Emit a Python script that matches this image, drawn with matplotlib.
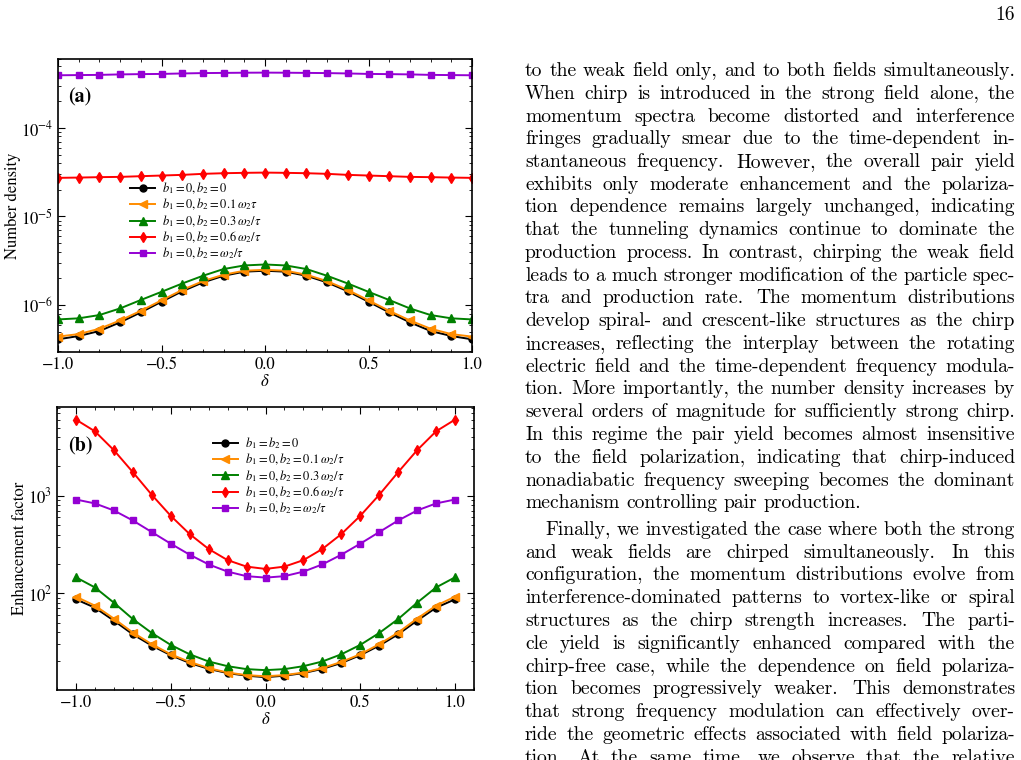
import matplotlib
matplotlib.use("Agg")
import matplotlib.pyplot as plt
from matplotlib.font_manager import FontProperties
from matplotlib.ticker import MultipleLocator, LogLocator, NullFormatter

plt.rcParams['font.family'] = 'STIXGeneral'
plt.rcParams['mathtext.fontset'] = 'stix'

# data
delta = [-1.0, -0.9, -0.8, -0.7, -0.6, -0.5, -0.4, -0.3, -0.2, -0.1, 0.0,
         0.1, 0.2, 0.3, 0.4, 0.5, 0.6, 0.7, 0.8, 0.9, 1.0]

black_a = [4.10e-7, 4.47e-7, 5.09e-7, 6.38e-7, 8.27e-7, 1.09e-6, 1.43e-6, 1.80e-6, 2.14e-6, 2.38e-6, 2.44e-6,
           2.38e-6, 2.14e-6, 1.80e-6, 1.43e-6, 1.09e-6, 8.27e-7, 6.38e-7, 5.09e-7, 4.47e-7, 4.10e-7]
orange_a = [4.40e-7, 4.70e-7, 5.40e-7, 6.70e-7, 8.60e-7, 1.13e-6, 1.48e-6, 1.86e-6, 2.20e-6, 2.44e-6, 2.50e-6,
            2.44e-6, 2.20e-6, 1.86e-6, 1.48e-6, 1.13e-6, 8.60e-7, 6.70e-7, 5.40e-7, 4.70e-7, 4.40e-7]
green_a = [6.88e-7, 7.08e-7, 7.71e-7, 9.16e-7, 1.14e-6, 1.41e-6, 1.75e-6, 2.14e-6, 2.55e-6, 2.80e-6, 2.87e-6,
           2.80e-6, 2.55e-6, 2.14e-6, 1.75e-6, 1.41e-6, 1.14e-6, 9.16e-7, 7.71e-7, 7.08e-7, 6.88e-7]
red_a = [2.73e-5, 2.75e-5, 2.78e-5, 2.80e-5, 2.85e-5, 2.90e-5, 2.95e-5, 3.03e-5, 3.08e-5, 3.11e-5, 3.13e-5,
         3.11e-5, 3.08e-5, 3.03e-5, 2.95e-5, 2.90e-5, 2.85e-5, 2.80e-5, 2.78e-5, 2.75e-5, 2.73e-5]
purple_a = [3.93e-4, 3.95e-4, 3.97e-4, 4.02e-4, 4.05e-4, 4.07e-4, 4.12e-4, 4.16e-4, 4.18e-4, 4.20e-4, 4.21e-4,
            4.20e-4, 4.18e-4, 4.16e-4, 4.12e-4, 4.07e-4, 4.05e-4, 4.02e-4, 3.97e-4, 3.95e-4, 3.93e-4]

black_b = [86.8, 71.3, 52.5, 38.0, 29.1, 23.2, 19.3, 16.8, 15.2, 14.3, 13.8,
           14.3, 15.2, 16.8, 19.3, 23.2, 29.1, 38.0, 52.5, 71.3, 86.8]
orange_b = [92.4, 74.8, 55.1, 39.6, 30.1, 23.7, 19.8, 17.1, 15.4, 14.5, 14.1,
            14.5, 15.4, 17.1, 19.8, 23.7, 30.1, 39.6, 55.1, 74.8, 92.4]
green_b = [146, 115, 80.2, 54.5, 39.2, 29.6, 23.7, 20.0, 17.9, 16.7, 16.3,
           16.7, 17.9, 20.0, 23.7, 29.6, 39.2, 54.5, 80.2, 115, 146]
red_b = [6050, 4590, 2940, 1750, 1024, 624, 405, 285, 219, 188, 178,
         188, 219, 285, 405, 624, 1024, 1750, 2940, 4590, 6050]
purple_b = [917, 836, 708, 559, 425, 323, 249, 198, 167, 150, 145,
            150, 167, 198, 249, 323, 425, 559, 708, 836, 917]

labels_a = [r'$b_1=0,b_2=0$', r'$b_1=0,b_2=0.1\,\omega_2\tau$', r'$b_1=0,b_2=0.3\,\omega_2/\tau$',
            r'$b_1=0,b_2=0.6\,\omega_2/\tau$', r'$b_1=0,b_2=\omega_2/\tau$']
labels_b = [r'$b_1=b_2=0$', r'$b_1=0,b_2=0.1\,\omega_2/\tau$', r'$b_1=0,b_2=0.3\,\omega_2/\tau$',
            r'$b_1=0,b_2=0.6\,\omega_2/\tau$', r'$b_1=0,b_2=\omega_2/\tau$']

colors = ['black', '#ff8c00', '#008000', '#ff0000', '#9400d3']
markers = ['o', '<', '^', 'd', 's']
msizes = [5, 5.5, 5.5, 5.5, 5]

W, H = 1021, 760
fig = plt.figure(figsize=(W / 100, H / 100), dpi=100)


def px_axes(l, t, r, b):
    return fig.add_axes([l / W, 1 - b / H, (r - l) / W, (b - t) / H])


def style(ax):
    ax.tick_params(which='both', direction='in', top=True, right=True, labelsize=12)
    ax.tick_params(which='major', length=5, width=0.8)
    ax.tick_params(which='minor', length=2.5, width=0.6)
    ax.xaxis.set_major_locator(MultipleLocator(0.5))
    ax.xaxis.set_minor_locator(MultipleLocator(0.1))
    ax.yaxis.set_minor_locator(LogLocator(base=10, subs=range(2, 10)))
    ax.yaxis.set_minor_formatter(NullFormatter())
    for s in ax.spines.values():
        s.set_linewidth(1.2)


leg_kw = dict(loc='upper left', frameon=False, fontsize=9, handlelength=2.0,
              handletextpad=0.55, labelspacing=0.05, borderpad=0, borderaxespad=0)

# panel (a)
ax1 = px_axes(58, 59, 472, 352)
for ys, c, m, ms, lab in zip([black_a, orange_a, green_a, red_a, purple_a], colors, markers, msizes, labels_a):
    ax1.plot(delta, ys, color=c, marker=m, ms=ms, lw=1.4, label=lab)
ax1.set_yscale('log')
ax1.set_xlim(-1, 1)
ax1.set_ylim(2.95e-7, 6.0e-4)
style(ax1)
ax1.set_xlabel(r'$\delta$', fontsize=12, labelpad=1)
ax1.set_ylabel('Number density', fontsize=12, labelpad=0)
ax1.text(0.024, 0.87, '(a)', transform=ax1.transAxes, fontsize=14.5, fontweight='bold', va='center')
ax1.legend(bbox_to_anchor=(0.174, 0.585), **leg_kw)

# panel (b)
ax2 = px_axes(57, 407, 474, 690)
for ys, c, m, ms, lab in zip([black_b, orange_b, green_b, red_b, purple_b], colors, markers, msizes, labels_b):
    ax2.plot(delta, ys, color=c, marker=m, ms=ms, lw=1.4, label=lab)
ax2.set_yscale('log')
ax2.set_xlim(-1.1, 1.1)
ax2.set_ylim(10.2, 8150)
style(ax2)
ax2.set_xlabel(r'$\delta$', fontsize=12, labelpad=1)
ax2.set_ylabel('Enhancement factor', fontsize=12, labelpad=0)
ax2.text(0.026, 0.86, '(b)', transform=ax2.transAxes, fontsize=14.5, fontweight='bold', va='center')
ax2.legend(bbox_to_anchor=(0.374, 0.9), **leg_kw)

# right column text, justified word by word
para1 = [
    "to the weak field only, and to both fields simultaneously.",
    "When chirp is introduced in the strong field alone, the",
    "momentum spectra become distorted and interference",
    "fringes gradually smear due to the time-dependent in-",
    "stantaneous frequency.  However, the overall pair yield",
    "exhibits only moderate enhancement and the polariza-",
    "tion dependence remains largely unchanged, indicating",
    "that the tunneling dynamics continue to dominate the",
    "production process. In contrast, chirping the weak field",
    "leads to a much stronger modification of the particle spec-",
    "tra and production rate.  The momentum distributions",
    "develop spiral- and crescent-like structures as the chirp",
    "increases, reflecting the interplay between the rotating",
    "electric field and the time-dependent frequency modula-",
    "tion. More importantly, the number density increases by",
    "several orders of magnitude for sufficiently strong chirp.",
    "In this regime the pair yield becomes almost insensitive",
    "to the field polarization, indicating that chirp-induced",
    "nonadiabatic frequency sweeping becomes the dominant",
    "mechanism controlling pair production.",
]
para2 = [
    "Finally, we investigated the case where both the strong",
    "and weak fields are chirped simultaneously.  In this",
    "configuration, the momentum distributions evolve from",
    "interference-dominated patterns to vortex-like or spiral",
    "structures as the chirp strength increases.  The parti-",
    "cle yield is significantly enhanced compared with the",
    "chirp-free case, while the dependence on field polariza-",
    "tion becomes progressively weaker.  This demonstrates",
    "that strong frequency modulation can effectively over-",
    "ride the geometric effects associated with field polariza-",
    "tion.  At the same time, we observe that the relative",
]

fig.canvas.draw()
rend = fig.canvas.get_renderer()
x0, x1 = 525, 1015
fs = 13.0
fp = FontProperties(family='cmr10', size=fs)


def tw(s):
    return rend.get_text_width_height_descent(s, fp, ismath=False)[0]


ref = tw(para1[0])
fs = fs * (x1 - x0) / ref
fp = FontProperties(family='cmr10', size=fs)
space = tw('a b') - tw('ab')


def put_line(line, y, left, justify):
    # a double space marks a sentence end, which TeX widens a little
    chunks = line.split(' ')
    words, extra = [], []
    for ch in chunks:
        if ch == '':
            if extra:
                extra[-1] += 1
            continue
        words.append(ch)
        extra.append(0)
    ws = [tw(w) for w in words]
    wide = sum(extra[:-1])
    if justify and len(words) > 1:
        gap = (x1 - left - sum(ws) - wide * 0.35 * space) / (len(words) - 1)
    else:
        gap = space
    x = left
    for w, wd, e in zip(words, ws, extra):
        fig.text(x / W, 1 - y / H, w, fontproperties=fp, va='baseline', ha='left')
        x += wd + gap + e * 0.35 * space


step = 22.75
y = 76.0
for i, line in enumerate(para1):
    put_line(line, y, x0, i < len(para1) - 1)
    y += step
y = 535.0
for i, line in enumerate(para2):
    put_line(line, y, x0 + (20 if i == 0 else 0), True)
    y += step

fig.text(x1 / W, 1 - 20 / H, '16', fontproperties=fp, va='baseline', ha='right')

fig.savefig('out.png', dpi=100)
